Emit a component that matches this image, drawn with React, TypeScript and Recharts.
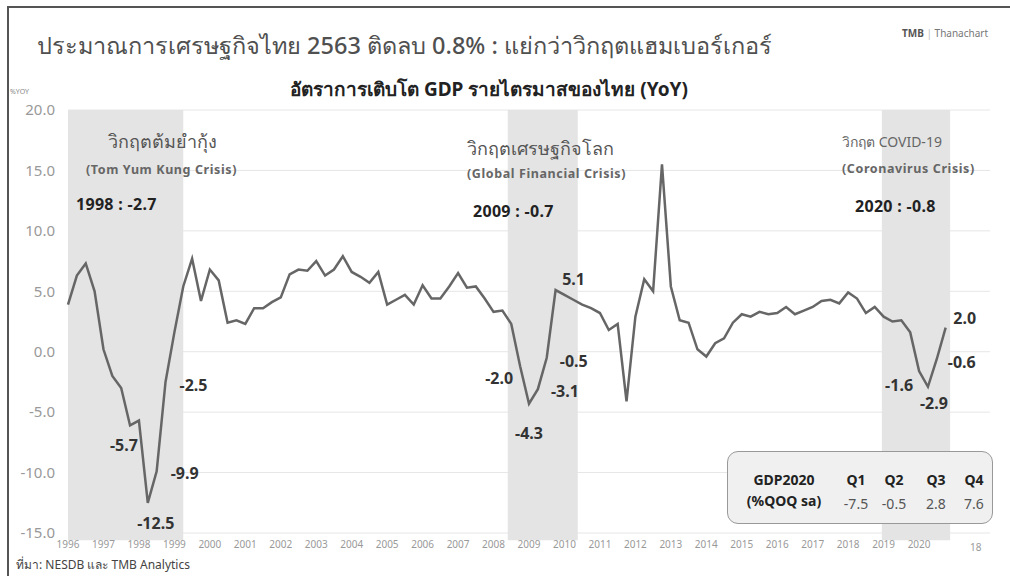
import React from "react";
import { LineChart, Line, XAxis, YAxis, CartesianGrid, ReferenceArea, LabelList } from "recharts";

// quarterly YoY growth, 1996Q1 .. 2020Q4
const yoy = [
  3.9, 6.3, 7.3, 5.0, 0.2, -2.0, -3.0, -6.1, -5.7, -12.5, -9.9, -2.5,
  1.6, 5.4, 7.7, 4.2, 6.8, 5.9, 2.4, 2.6, 2.3, 3.6, 3.6, 4.1,
  4.5, 6.4, 6.8, 6.7, 7.5, 6.3, 6.8, 7.9, 6.6, 6.2, 5.7, 6.6,
  3.9, 4.3, 4.7, 3.9, 5.5, 4.4, 4.4, 5.4, 6.5, 5.3, 5.4, 4.4,
  3.3, 3.4, 2.3, -1.2, -4.3, -3.1, -0.5, 5.1, 4.7, 4.3, 3.9, 3.6,
  3.2, 1.8, 2.3, -4.1, 2.9, 6.0, 5.0, 15.5, 5.4, 2.6, 2.4, 0.2,
  -0.4, 0.7, 1.1, 2.4, 3.1, 2.9, 3.3, 3.1, 3.2, 3.7, 3.1, 3.4,
  3.7, 4.2, 4.3, 4.0, 4.9, 4.4, 3.2, 3.7, 2.9, 2.5, 2.6, 1.6,
  -1.6, -2.9, -0.6, 2.0,
];
const years = [
  1996, 1997, 1998, 1999, 2000, 2001, 2002, 2003, 2004, 2005, 2006, 2007, 2008,
  2009, 2010, 2011, 2012, 2013, 2014, 2015, 2016, 2017, 2018, 2019, 2020,
];
const yTicks = [-15, -10, -5, 0, 5, 10, 15, 20];

// shaded crisis periods, in quarter index
const crisisStart = [0, 49.6, 91.8];
const crisisEnd = [13, 57.5, 99.5];

// labelled points: quarter index -> text
const pointLabels: Record<number, string> = {
  8: "-5.7", 9: "-12.5", 10: "-9.9", 11: "-2.5",
  51: "-2.0", 52: "-4.3", 53: "-3.1", 54: "-0.5", 55: "5.1",
  96: "-1.6", 97: "-2.9", 98: "-0.6", 99: "2.0",
};

const qoqQuarters = ["Q1", "Q2", "Q3", "Q4"];
const qoqValues = ["-7.5", "-0.5", "2.8", "7.6"];

const data = yoy.map((v, i) => ({ i, v }));

const labelOffset: Record<number, [number, number]> = {
  8: [-15, 24], 9: [8, 20], 10: [28, 2], 11: [28, 3],
  51: [-21, 12], 52: [0, 29], 53: [27, 2], 54: [27, 3], 55: [18, -11],
  96: [-20, 14], 97: [6, 16], 98: [25, 3], 99: [19, -10],
};

const SANS = "'Noto Sans', 'DejaVu Sans', sans-serif";

function PointLabel(props: any) {
  const { x, y, index } = props;
  const text = pointLabels[index];
  if (!text) return null;
  const [dx, dy] = labelOffset[index];
  return (
    <text x={x + dx} y={y + dy + 6} textAnchor="middle" fontSize={16} fontWeight={700}
      fill="#333" fontFamily={SANS}>
      {text}
    </text>
  );
}

const note = (left: number, top: number, size: number, bold: boolean, color: string, spacing = 0) => ({
  position: "absolute" as const, left, top, fontSize: size, fontWeight: bold ? 700 : 400, color,
  letterSpacing: spacing, whiteSpace: "nowrap" as const, lineHeight: 1.2,
});

export default function App() {
  return (
    <div style={{ position: "absolute", left: 0, top: 0, width: 1010, height: 576, background: "#fff",
      fontFamily: SANS, overflow: "hidden" }}>
      <div style={{ position: "absolute", left: 7, top: 6, right: 0, bottom: 0,
        borderTop: "2px solid #555", borderLeft: "2px solid #555" }} />
      <div style={{ ...note(37, 31, 23.5, false, "#505050"), fontWeight: 500 }}>
        ประมาณการเศรษฐกิจไทย 2563 ติดลบ 0.8% : แย่กว่าวิกฤตแฮมเบอร์เกอร์
      </div>
      <div style={note(902, 27, 10, false, "#777")}>
        <b style={{ color: "#555" }}>TMB</b> <span style={{ color: "#bbb" }}>|</span> Thanachart
      </div>
      <div style={note(290, 78, 19, true, "#222")}>
        อัตราการเติบโต GDP รายไตรมาสของไทย (YoY)
      </div>
      <div style={note(10, 88, 7, false, "#888")}>%YOY</div>

      <div style={{ position: "absolute", left: 0, top: 0 }}>
        <LineChart width={1010} height={576} data={data}
          margin={{ top: 110, right: 20, bottom: 13, left: 0 }}>
          <CartesianGrid vertical={false} stroke="#e6e6e6" />
          <XAxis dataKey="i" type="number" domain={[0, 104]} ticks={years.map((_, k) => k * 4)}
            tickFormatter={(v: number) => String(years[v / 4])} axisLine={false} tickLine={false}
            interval={0} height={30} tick={{ fontSize: 10, fill: "#999", fontFamily: SANS }} />
          <YAxis domain={[-15, 20]} ticks={yTicks} width={68} axisLine={false} tickLine={false}
            tickMargin={7} tickFormatter={(v: number) => v.toFixed(1)}
            tick={{ fontSize: 15, fill: "#999", fontFamily: SANS }} />
          {crisisStart.map((s, k) => (
            <ReferenceArea key={k} x1={s} x2={crisisEnd[k]} y1={-15.6} y2={20}
              fill="#e4e4e4" fillOpacity={1} stroke="none" ifOverflow="visible" />
          ))}
          <Line dataKey="v" stroke="#666" strokeWidth={2.5} dot={false} isAnimationActive={false}>
            <LabelList dataKey="v" content={PointLabel} />
          </Line>
        </LineChart>
      </div>

      {/* crisis annotations */}
      <div style={note(108, 131, 18, false, "#555")}>วิกฤตต้มยำกุ้ง</div>
      <div style={note(86, 162, 12.5, true, "#666", 0.6)}>(Tom Yum Kung Crisis)</div>
      <div style={note(76, 195, 16, true, "#222", 0.3)}>1998 : -2.7</div>

      <div style={note(467, 138, 18, false, "#555")}>วิกฤตเศรษฐกิจโลก</div>
      <div style={note(467, 166, 12.5, true, "#666", 0.6)}>(Global Financial Crisis)</div>
      <div style={note(473, 202, 16, true, "#222", 0.3)}>2009 : -0.7</div>

      <div style={note(842, 134, 14, false, "#666")}>วิกฤต COVID-19</div>
      <div style={note(842, 161, 12.5, true, "#666", 0.6)}>(Coronavirus Crisis)</div>
      <div style={note(855, 197, 16, true, "#222", 0.3)}>2020 : -0.8</div>

      {/* QoQ table */}
      <div style={{ position: "absolute", left: 727, top: 451, width: 264, height: 71, background: "#f0f0f0",
        border: "1.5px solid #999", borderRadius: 11 }}>
        <div style={{ position: "absolute", left: 12, top: 17, width: 88, textAlign: "center", fontSize: 14,
          fontWeight: 700, color: "#222", lineHeight: "21px" }}>
          GDP2020<br />(%QOQ sa)
        </div>
        {qoqQuarters.map((q, k) => (
          <div key={q} style={{ position: "absolute", left: [128, 166, 208, 246][k] - 17, width: 34, top: 17,
            textAlign: "center", lineHeight: "21px" }}>
            <div style={{ fontSize: 14, fontWeight: 700, color: "#222" }}>{q}</div>
            <div style={{ fontSize: 14, color: "#555", marginTop: 3 }}>{qoqValues[k]}</div>
          </div>
        ))}
      </div>

      <div style={note(970, 541, 10, false, "#999")}>18</div>
      <div style={note(16, 558, 12, false, "#444")}>ที่มา: NESDB และ TMB Analytics</div>
    </div>
  );
}
